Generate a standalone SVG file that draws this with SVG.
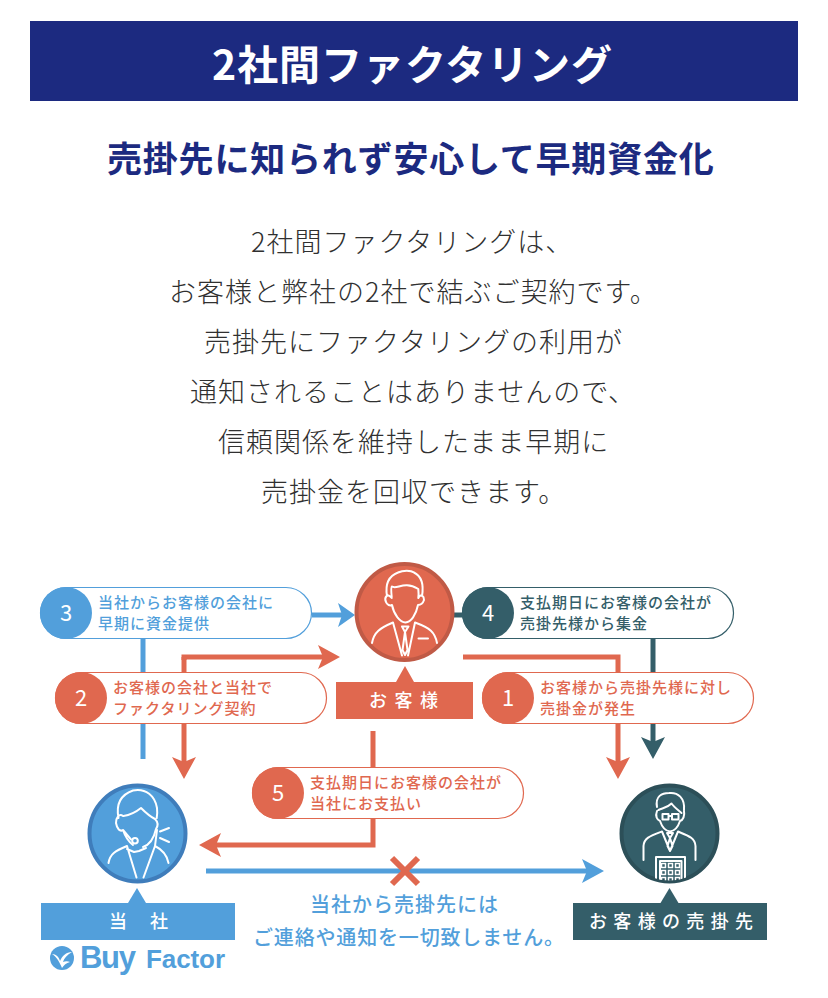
<svg xmlns="http://www.w3.org/2000/svg" width="828" height="998" viewBox="0 0 828 998">
<style>
text{font-family:"Noto Sans CJK JP","Noto Sans",sans-serif}
.body{font-size:27px;font-weight:300;fill:#303030;letter-spacing:1px}
.pt{font-size:15px;font-weight:500;letter-spacing:1px}
.num{font-family:"Noto Sans CJK JP",sans-serif;font-size:22px;fill:#fff;text-anchor:middle;font-weight:400}
.lab{font-size:18px;fill:#fff;font-weight:500}
.blue{fill:#529fdb}.red{fill:#e0684f}.dark{fill:#345e69}
.pill{fill:#fff;stroke-width:1.2}
.c{fill:none;stroke-width:5}
.ic{fill:none;stroke:#fff;stroke-width:2;stroke-linecap:round;stroke-linejoin:round}
.note{font-size:20px;font-weight:500;fill:#529fdb}
.logo{font-family:"Liberation Sans",sans-serif;font-weight:700;fill:#529fdb}
</style>
<defs>
<marker id="hb" markerUnits="userSpaceOnUse" markerWidth="23" markerHeight="25" refX="5" refY="12" orient="auto"><path d="M0 0L22 12L0 24L5 12Z" fill="#529fdb"/></marker>
<marker id="hbs" markerUnits="userSpaceOnUse" markerWidth="18" markerHeight="25" refX="4" refY="12" orient="auto"><path d="M0 0L17 12L0 24L4 12Z" fill="#529fdb"/></marker>
<marker id="hr" markerUnits="userSpaceOnUse" markerWidth="23" markerHeight="25" refX="5" refY="12" orient="auto"><path d="M0 0L22 12L0 24L5 12Z" fill="#e0684f"/></marker>
<marker id="hd" markerUnits="userSpaceOnUse" markerWidth="23" markerHeight="25" refX="5" refY="12" orient="auto"><path d="M0 0L22 12L0 24L5 12Z" fill="#345e69"/></marker>
<clipPath id="cc"><circle cx="669.5" cy="833.5" r="47"/></clipPath>
</defs>
<rect width="828" height="998" fill="#fff"/>
<g id="header">
<rect x="30" y="21" width="768" height="80" fill="#1c2a80"/>
<text x="212" y="80" font-size="41" font-weight="700" fill="#fff" textLength="400">2社間ファクタリング</text>
</g>
<text id="subtitle" x="107" y="172" font-size="35" font-weight="700" fill="#1c2a80" letter-spacing="0.8">売掛先に知られず安心して早期資金化</text>
<g id="intro">
<text class="body" x="251" y="252">2社間ファクタリングは、</text>
<text class="body" x="169" y="302">お客様と弊社の2社で結ぶご契約です。</text>
<text class="body" x="204" y="352">売掛先にファクタリングの利用が</text>
<text class="body" x="190" y="402">通知されることはありませんので、</text>
<text class="body" x="218" y="452">信頼関係を維持したまま早期に</text>
<text class="body" x="261" y="502">売掛金を回収できます。</text>
</g>
<g id="connectors">
<path class="c" stroke="#529fdb" d="M143 638V759"/>
<path class="c" stroke="#529fdb" d="M312 615H342" marker-end="url(#hbs)"/>
<path class="c" stroke="#e0684f" d="M184 660V657H323" marker-end="url(#hr)"/>
<path class="c" stroke="#e0684f" d="M184 657V762" marker-end="url(#hr)"/>
<path class="c" stroke="#345e69" d="M454 615H466"/>
<path class="c" stroke="#345e69" d="M653 638V742" marker-end="url(#hd)"/>
<path class="c" stroke="#e0684f" d="M463 657H618V762" marker-end="url(#hr)"/>
<path class="c" stroke="#e0684f" d="M373 731V845H216" marker-end="url(#hr)"/>
<path class="c" stroke="#529fdb" d="M206 871H587" marker-end="url(#hb)"/>
<path fill="none" stroke="#e0684f" stroke-width="6" d="M392 858L418 884M418 858L392 884"/>
</g>
<g id="step3">
<rect class="pill" stroke="#529fdb" x="40.5" y="587.5" width="271" height="51" rx="25.5"/>
<circle class="blue" cx="66" cy="613" r="26"/>
<text class="num" x="66" y="621">3</text>
<text class="pt blue" x="98" y="608">当社からお客様の会社に</text>
<text class="pt blue" x="98" y="629">早期に資金提供</text>
</g>
<g id="step2">
<rect class="pill" stroke="#e0684f" x="55.5" y="672.5" width="271" height="51" rx="25.5"/>
<circle class="red" cx="81" cy="698" r="26"/>
<text class="num" x="81" y="706">2</text>
<text class="pt red" x="113" y="693">お客様の会社と当社で</text>
<text class="pt red" x="113" y="714">ファクタリング契約</text>
</g>
<g id="step4">
<rect class="pill" stroke="#345e69" x="462.5" y="587.5" width="271" height="51" rx="25.5"/>
<circle class="dark" cx="488" cy="613" r="26"/>
<text class="num" x="488" y="621">4</text>
<text class="pt dark" x="520" y="608">支払期日にお客様の会社が</text>
<text class="pt dark" x="520" y="629">売掛先様から集金</text>
</g>
<g id="step1">
<rect class="pill" stroke="#e0684f" x="482.5" y="672.5" width="271" height="51" rx="25.5"/>
<circle class="red" cx="508" cy="698" r="26"/>
<text class="num" x="508" y="706">1</text>
<text class="pt red" x="540" y="693">お客様から売掛先様に対し</text>
<text class="pt red" x="540" y="714">売掛金が発生</text>
</g>
<g id="step5">
<rect class="pill" stroke="#e0684f" x="252.5" y="767.5" width="271" height="51" rx="25.5"/>
<circle class="red" cx="278" cy="793" r="26"/>
<text class="num" x="278" y="801">5</text>
<text class="pt red" x="310" y="788">支払期日にお客様の会社が</text>
<text class="pt red" x="310" y="809">当社にお支払い</text>
</g>
<g id="customer">
<circle cx="404.5" cy="612" r="48" fill="#e0684f" stroke="#c05a46" stroke-width="4"/>
<path class="ic" d="M387 596C385 584 389 576 398 572.5C403 570 411 570 414 572.5C421 576 424 584 422 596M391.7 597C391 590 391 587 392 586.5C397 590 404 580 418.3 589C418.6 592 418.8 595 418.3 598M391.7 598C387 592 384 598 386 602C387 605 390 606 392 605C394 615 400 622 405.5 622.5C411 622 416 615 418 605C421 605 423 603 424 600C424 596 421 593 418.3 598"/>
<path class="ic" d="M372 643C374 632 380 628 393 622.5L402 655.5M415 622.5C430 628 435 632 437 643M415 622.5L408 655.5M402 626.5H408.5L405 632ZM405 632L402.5 650L405 655L407.5 650ZM418.5 638.5H428"/>
<path class="red" d="M405 666L414 682H396Z"/>
<rect class="red" x="336" y="682" width="137" height="37"/>
<text class="lab" x="369" y="707" textLength="69">お客様</text>
</g>
<g id="company">
<circle cx="137.5" cy="833.5" r="48" fill="#529fdb" stroke="#3f7dbb" stroke-width="4"/>
<path class="ic" d="M118.5 818C116 805 120 795 133 790.5C146 788 155 796 157 808C157.5 812 157 816 156.7 818M123.5 816C130 815 136 812 141 808C146 813 151 817 155 819C158 822 158 826 156 829C154 838 149 845 143 847M123 816C119 813 116 818 116 823C117 829 120 832 123 830L131 839.5M123 830C125 836 129 842 133 845"/>
<circle class="ic" cx="135" cy="840.7" r="2.8"/>
<path class="ic" d="M108.5 863C110 854 115 851 127 846L136.5 877.5M143.5 877.5L155 846C163 850 167 855 168.5 863M155 846L157 830M127 849L134 852L139 851L146 848M160 831.5L169 828M160 838L169 842"/>
<path class="blue" d="M137 888L146 903H128Z"/>
<rect class="blue" x="41" y="903" width="194" height="37"/>
<text class="lab" x="109" y="928" textLength="59" lengthAdjust="spacing">当　社</text>
</g>
<g id="debtor">
<circle cx="669.5" cy="833.5" r="48" fill="#345e69" stroke="#2c4f58" stroke-width="4"/>
<path class="ic" d="M657 807C655 796 662 793 669 793C678 792 685 798 684 810M658.5 810C663 808 667 808 671.5 803.5C674 807 678 810 681.5 813M657 811C655 816 657 820 660 821C662 827 666 831 670 831.5C675 831 678 827 680 821C683 820 685 816 684 811"/>
<path class="ic" stroke-width="1.5" d="M662.5 814H668.5V819.5H662.5ZM672 814H678.5V819.5H672ZM668.5 816H672"/>
<path class="ic" d="M643.5 860V846C644 838 650 836 662 831.5L670 851L678 831.5C689 836 695 838 695.5 846V860M667 833H673L670 838ZM670 838L667.5 846L670 851L672.5 846Z"/>
<g clip-path="url(#cc)">
<path class="ic" stroke-width="1.6" d="M656 885V857H685V885M660 885V861H681.5V885"/>
<path fill="none" stroke="#fff" stroke-width="1.5" d="M661.5 863.5h4v4h-4zM668.5 863.5h4v4h-4zM675.5 863.5h4v4h-4zM661.5 870.5h4v4h-4zM668.5 870.5h4v4h-4zM675.5 870.5h4v4h-4zM661.5 877.5h4v4h-4zM668.5 877.5h4v4h-4zM675.5 877.5h4v4h-4z"/>
</g>
<path class="dark" d="M669.5 888L678.5 903H660.5Z"/>
<rect class="dark" x="573" y="903" width="194" height="37"/>
<text class="lab" x="589" y="928" textLength="164">お客様の売掛先</text>
</g>
<g id="note">
<text class="note" x="310" y="912" textLength="188">当社から売掛先には</text>
<text class="note" x="253" y="945" textLength="311">ご連絡や通知を一切致しません。</text>
</g>
<g id="logo">
<circle cx="62" cy="958" r="12" fill="#529fdb"/>
<path fill="#fff" d="M52 954C56 954 59 957 60 961C62 956 66 952 72 952C67 955 64 958 63 962C65 961 68 961 70 962C66 963 64 965 62 968C60 963 57 957 52 954Z"/>
<text class="logo" x="80" y="968" font-size="31" textLength="56">Buy</text>
<text class="logo" x="146" y="968" font-size="26" textLength="79">Factor</text>
</g>
</svg>
